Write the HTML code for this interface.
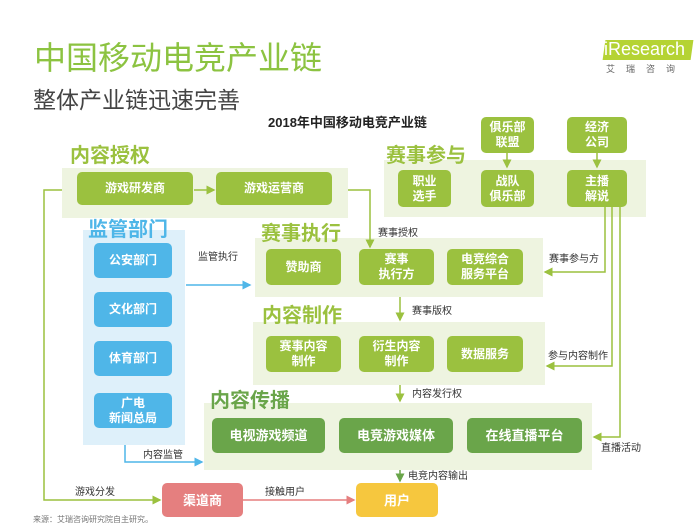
<!DOCTYPE html>
<html><head><meta charset="utf-8"><style>
body{margin:0;width:700px;height:529px;background:#fff;position:relative;overflow:hidden;font-family:"Liberation Sans","Noto Sans CJK SC",sans-serif}
.a{position:absolute}
.bg{position:absolute;background:#eef4e0}
.b{position:absolute;display:flex;align-items:center;justify-content:center;text-align:center;color:#fff;font-weight:bold;font-size:12px;line-height:15px;border-radius:5px;background:#9bc13f}
.blue{background:#4fb6e8}
.dk{background:#6aa54a;font-size:13px}
.sec{position:absolute;font-weight:bold;font-size:20px;color:#9bc13f;line-height:22px}
.lb{position:absolute;font-size:10px;color:#333;line-height:12px}
</style></head><body>
<div class="a" style="left:34px;top:38px;font-size:32px;color:#8cc341;line-height:40px">中国移动电竞产业链</div>
<div class="a" style="left:33px;top:86px;font-size:23px;color:#444;line-height:28px">整体产业链迅速完善</div>
<div class="a" style="left:604px;top:40px;width:88px;height:20px;background:#b5d334;transform:skewX(-8deg)"></div>
<div class="a" style="left:604px;top:38px;font-size:18px;color:#fff;line-height:22px">iResearch</div>
<div class="a" style="left:606px;top:62px;font-size:9px;color:#666;letter-spacing:11px">艾瑞咨询</div>
<div class="a" style="left:268px;top:112px;font-size:13px;font-weight:bold;color:#222">2018年中国移动电竞产业链</div>

<div class="bg" style="left:62px;top:168px;width:286px;height:50px"></div>
<div class="bg" style="left:384px;top:160px;width:262px;height:57px"></div>
<div class="bg" style="left:83px;top:230px;width:102px;height:215px;background:#def0fa"></div>
<div class="bg" style="left:255px;top:238px;width:288px;height:59px"></div>
<div class="bg" style="left:253px;top:322px;width:292px;height:63px"></div>
<div class="bg" style="left:204px;top:403px;width:388px;height:67px"></div>

<div class="sec" style="left:70px;top:145px">内容授权</div>
<div class="sec" style="left:386px;top:145px">赛事参与</div>
<div class="sec" style="left:88px;top:219px;color:#4fb6e8">监管部门</div>
<div class="sec" style="left:261px;top:223px">赛事执行</div>
<div class="sec" style="left:262px;top:305px">内容制作</div>
<div class="sec" style="left:210px;top:390px;color:#6aa54a">内容传播</div>

<svg class="a" style="left:0;top:0" width="700" height="529">
<defs>
<marker id="g" markerWidth="6" markerHeight="6" refX="5" refY="3" orient="auto"><path d="M0,0L6,3L0,6z" fill="#9bc13f"/></marker>
<marker id="bl" markerWidth="6" markerHeight="6" refX="5" refY="3" orient="auto"><path d="M0,0L6,3L0,6z" fill="#4fb6e8"/></marker>
<marker id="r" markerWidth="6" markerHeight="6" refX="5" refY="3" orient="auto"><path d="M0,0L6,3L0,6z" fill="#e57f7f"/></marker>
<marker id="dg" markerWidth="6" markerHeight="6" refX="5" refY="3" orient="auto"><path d="M0,0L6,3L0,6z" fill="#6aa54a"/></marker>
</defs>
<g fill="none" stroke-width="1.5">
<path d="M62,190H44V500H160" stroke="#9bc13f" marker-end="url(#g)"/>
<path d="M194,190H214" stroke="#9bc13f" marker-end="url(#g)"/>
<path d="M348,190H370V247" stroke="#9bc13f" marker-end="url(#g)"/>
<path d="M507,153V167" stroke="#9bc13f" marker-end="url(#g)"/>
<path d="M597,153V167" stroke="#9bc13f" marker-end="url(#g)"/>
<path d="M605,207V272H545" stroke="#9bc13f" marker-end="url(#g)"/>
<path d="M612,207V366H547" stroke="#9bc13f" marker-end="url(#g)"/>
<path d="M620,207V437H594" stroke="#9bc13f" marker-end="url(#g)"/>
<path d="M186,285H250" stroke="#4fb6e8" marker-end="url(#bl)"/>
<path d="M125,445V462H202" stroke="#4fb6e8" marker-end="url(#bl)"/>
<path d="M400,297V320" stroke="#9bc13f" marker-end="url(#g)"/>
<path d="M400,385V401" stroke="#9bc13f" marker-end="url(#g)"/>
<path d="M400,470V481" stroke="#6aa54a" marker-end="url(#dg)"/>
<path d="M243,500H354" stroke="#e57f7f" marker-end="url(#r)"/>
</g></svg>

<div class="b" style="left:77px;top:172px;width:116px;height:33px">游戏研发商</div>
<div class="b" style="left:216px;top:172px;width:116px;height:33px">游戏运营商</div>
<div class="b" style="left:398px;top:170px;width:53px;height:37px">职业<br>选手</div>
<div class="b" style="left:481px;top:170px;width:53px;height:37px">战队<br>俱乐部</div>
<div class="b" style="left:567px;top:170px;width:60px;height:37px">主播<br>解说</div>
<div class="b" style="left:481px;top:117px;width:53px;height:36px">俱乐部<br>联盟</div>
<div class="b" style="left:567px;top:117px;width:60px;height:36px">经济<br>公司</div>

<div class="b blue" style="left:94px;top:243px;width:78px;height:35px">公安部门</div>
<div class="b blue" style="left:94px;top:292px;width:78px;height:35px">文化部门</div>
<div class="b blue" style="left:94px;top:341px;width:78px;height:35px">体育部门</div>
<div class="b blue" style="left:94px;top:393px;width:78px;height:35px">广电<br>新闻总局</div>

<div class="b" style="left:266px;top:249px;width:75px;height:36px">赞助商</div>
<div class="b" style="left:359px;top:249px;width:75px;height:36px">赛事<br>执行方</div>
<div class="b" style="left:447px;top:249px;width:76px;height:36px">电竞综合<br>服务平台</div>
<div class="b" style="left:266px;top:336px;width:75px;height:36px">赛事内容<br>制作</div>
<div class="b" style="left:359px;top:336px;width:75px;height:36px">衍生内容<br>制作</div>
<div class="b" style="left:447px;top:336px;width:76px;height:36px">数据服务</div>
<div class="b dk" style="left:212px;top:418px;width:113px;height:35px">电视游戏频道</div>
<div class="b dk" style="left:339px;top:418px;width:114px;height:35px">电竞游戏媒体</div>
<div class="b dk" style="left:467px;top:418px;width:115px;height:35px">在线直播平台</div>
<div class="b" style="left:162px;top:483px;width:81px;height:34px;background:#e57f7f;font-size:13px">渠道商</div>
<div class="b" style="left:356px;top:483px;width:82px;height:34px;background:#f6c73e;font-size:13px">用户</div>

<div class="lb" style="left:378px;top:228px">赛事授权</div>
<div class="lb" style="left:198px;top:252px">监管执行</div>
<div class="lb" style="left:549px;top:254px">赛事参与方</div>
<div class="lb" style="left:412px;top:306px">赛事版权</div>
<div class="lb" style="left:548px;top:351px">参与内容制作</div>
<div class="lb" style="left:412px;top:389px">内容发行权</div>
<div class="lb" style="left:601px;top:443px">直播活动</div>
<div class="lb" style="left:143px;top:450px">内容监管</div>
<div class="lb" style="left:408px;top:471px">电竞内容输出</div>
<div class="lb" style="left:75px;top:487px">游戏分发</div>
<div class="lb" style="left:265px;top:487px">接触用户</div>
<div class="lb" style="left:33px;top:514px;font-size:8px;color:#777">来源：艾瑞咨询研究院自主研究。</div>
</body></html>
